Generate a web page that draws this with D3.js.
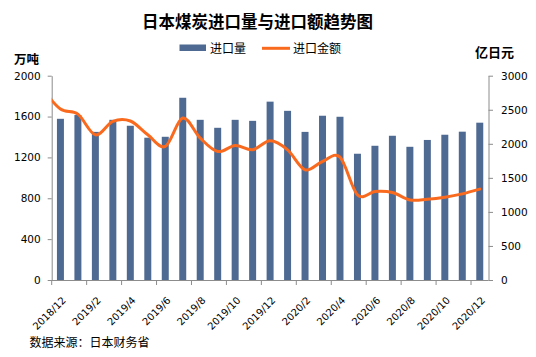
<!DOCTYPE html>
<html><head><meta charset="utf-8">
<script src="https://cdn.jsdelivr.net/npm/d3@7"></script>
<style>
html,body{margin:0;padding:0;background:#fff;}
svg{display:block;}
</style></head>
<body>
<script>
const months = ["2018/12","2019/1","2019/2","2019/3","2019/4","2019/5","2019/6","2019/7","2019/8","2019/9","2019/10","2019/11","2019/12","2020/1","2020/2","2020/3","2020/4","2020/5","2020/6","2020/7","2020/8","2020/9","2020/10","2020/11","2020/12"];
// 进口量 (万吨)
const volume = [1578,1615,1450,1568,1510,1393,1402,1784,1568,1490,1568,1558,1746,1656,1450,1608,1598,1236,1314,1412,1304,1371,1422,1452,1540];
// 进口金额 (亿日元); first entry is 2018/11, which lies just left of the plot and is clipped
const valueMonths = ["2018/11"].concat(months);
const value = [2800,2510,2436,2132,2330,2335,2132,1961,2378,2083,1887,1975,1912,2044,1912,1618,1740,1804,1250,1299,1284,1176,1186,1216,1265,1334];
const leftTicks = [0,400,800,1200,1600,2000];
const rightTicks = [0,500,1000,1500,2000,2500,3000];
const tickLabels = months.filter((d,i)=>i%2===0);

const W=536,H=357;
const L=51.7,R=488.5,T=75.7,B=280;
const svg=d3.select("body").append("svg").attr("width",W).attr("height",H);
const cjk='"Noto Sans CJK SC","Noto Sans",sans-serif';
const num='"DejaVu Sans",sans-serif';
const axisColor="#8c8c8c";

const x=d3.scaleBand().domain(months).range([L,R]).paddingInner(0.6).paddingOuter(0.3);
const xi=d3.scaleLinear().domain([-0.5,months.length-0.5]).range([L,R]);
const yL=d3.scaleLinear().domain([0,2000]).range([B,T]);
const yR=d3.scaleLinear().domain([0,3000]).range([B,T]);

// title
svg.append("text").attr("x",257.5).attr("y",28).attr("text-anchor","middle")
 .attr("font-family",cjk).attr("font-weight","bold").attr("font-size",16.5).attr("fill","#000")
 .text("日本煤炭进口量与进口额趋势图");

// legend
svg.append("rect").attr("x",179.5).attr("y",44.5).attr("width",26.5).attr("height",6.5).attr("fill","#4F6A92");
svg.append("text").attr("x",210).attr("y",52.5).attr("font-family",cjk).attr("font-size",12).attr("fill","#000").text("进口量");
svg.append("line").attr("x1",262).attr("x2",290).attr("y1",48.3).attr("y2",48.3).attr("stroke","#FA6A1E").attr("stroke-width",3);
svg.append("text").attr("x",293).attr("y",52.5).attr("font-family",cjk).attr("font-size",12).attr("fill","#000").text("进口金额");

// unit labels
svg.append("text").attr("x",14).attr("y",63.5).attr("font-family",cjk).attr("font-weight","bold").attr("font-size",12.5).text("万吨");
svg.append("text").attr("x",475).attr("y",56.5).attr("font-family",cjk).attr("font-weight","bold").attr("font-size",13).text("亿日元");

// bars
svg.append("g").selectAll("rect").data(months).join("rect")
 .attr("x",d=>x(d)).attr("width",x.bandwidth())
 .attr("y",(d,i)=>yL(volume[i])).attr("height",(d,i)=>B-yL(volume[i]))
 .attr("fill","#4F6A92");

// axes
const gL=svg.append("g").attr("transform",`translate(${L},0)`)
 .call(d3.axisLeft(yL).tickValues(leftTicks).tickFormat(d3.format("d")).tickSize(4).tickPadding(7).tickSizeOuter(0));
const gR=svg.append("g").attr("transform",`translate(${R},0)`)
 .call(d3.axisRight(yR).tickValues(rightTicks).tickFormat(d3.format("d")).tickSize(4.5).tickPadding(8).tickSizeOuter(0));
const gB=svg.append("g").attr("transform",`translate(0,${B})`)
 .call(d3.axisBottom(x).tickValues(tickLabels).tickSize(5).tickSizeOuter(0).tickFormat(""));
[gL,gR,gB].forEach(g=>{
  g.selectAll("path,line").attr("stroke",axisColor);
  g.selectAll("text").attr("font-family",num).attr("font-size",10.5).attr("fill","#000");
});
// move bottom ticks to category boundaries
gB.selectAll(".tick line").attr("x1",-x.step()/2).attr("x2",-x.step()/2);
gB.select(".domain").attr("d",`M${L},0.5H${R}`);

// x labels
svg.append("g").selectAll("text").data(tickLabels).join("text")
 .attr("transform",d=>`translate(${x(d)+x.bandwidth()/2+6},301) rotate(-45)`)
 .attr("text-anchor","end").attr("font-family",num).attr("font-size",10).attr("fill","#000")
 .text(d=>d);

// line
svg.append("clipPath").attr("id","plotclip").append("rect").attr("x",L).attr("y",0).attr("width",R-L).attr("height",H);
const line=d3.line().x((d,i)=>xi(i-1)).y(d=>yR(d)).curve(d3.curveCardinal.tension(0));
svg.append("path").datum(value).attr("clip-path","url(#plotclip)")
 .attr("d",line).attr("fill","none").attr("stroke","#FA6A1E").attr("stroke-width",3).attr("stroke-linecap","round");

// source
svg.append("text").attr("x",29.5).attr("y",347).attr("font-family",cjk).attr("font-size",12).attr("fill","#000").text("数据来源：日本财务省");
</script>
</body></html>
